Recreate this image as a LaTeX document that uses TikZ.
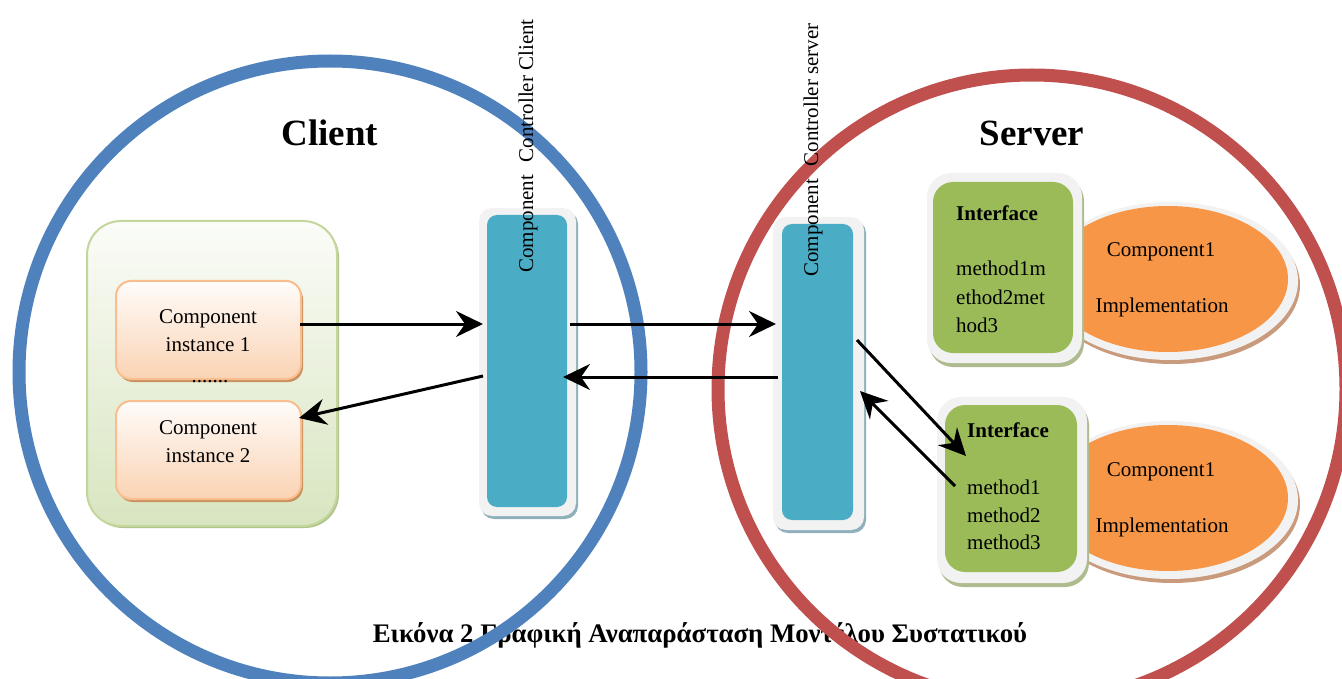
\documentclass[tikz,border=0pt]{standalone}
\usepackage{fontspec}
\setmainfont{Liberation Serif}
\usetikzlibrary{arrows.meta,shadows,shapes.geometric}
\definecolor{blueR}{HTML}{4F81BD}
\definecolor{redR}{HTML}{C0504D}
\definecolor{tealB}{HTML}{4BACC6}
\definecolor{frameG}{HTML}{F2F2F2}
\definecolor{barShadow}{HTML}{8FAFBA}
\definecolor{greenI}{HTML}{9BBB59}
\definecolor{greenShadow}{HTML}{AEBB8E}
\definecolor{orangeE}{HTML}{F79646}
\definecolor{ellShadow}{HTML}{C99A7C}
\definecolor{cbTop}{HTML}{FBFCF8}
\definecolor{cbBot}{HTML}{D8E5C0}
\definecolor{cbBorder}{HTML}{C3D69B}
\definecolor{cbShadow}{HTML}{AFC38A}
\definecolor{ciTop}{HTML}{FFFCFA}
\definecolor{ciBot}{HTML}{FAD3B3}
\definecolor{ciBorder}{HTML}{F9BE8F}
\definecolor{ciShadow}{HTML}{C9925F}
\tikzset{
  ring/.style={draw, line width=13pt},
  txt/.style={font=\fontsize{21}{28}\selectfont, inner sep=0pt},
  boldlabel/.style={font=\fontsize{37}{40}\selectfont\bfseries, inner sep=0pt},
  clientbox/.style={rectangle, rounded corners=34pt, draw=cbBorder, line width=2pt,
     top color=cbTop, bottom color=cbBot, inner sep=0pt,
     drop shadow={shadow xshift=2pt, shadow yshift=-2pt, fill=cbShadow, opacity=1}},
  instbox/.style={rectangle, rounded corners=15pt, draw=ciBorder, line width=2pt,
     top color=ciTop, bottom color=ciBot, inner sep=0pt,
     minimum width=185pt, minimum height=98pt,
     drop shadow={shadow xshift=2pt, shadow yshift=-3pt, fill=ciShadow, opacity=1}},
  barframe/.style={rectangle, rounded corners=13pt, fill=frameG, inner sep=0pt,
     drop shadow={shadow xshift=2pt, shadow yshift=-3pt, fill=barShadow, opacity=1}},
  barinner/.style={rectangle, rounded corners=10pt, fill=tealB, inner sep=0pt},
  ifframe/.style={rectangle, rounded corners=24pt, fill=frameG, inner sep=0pt,
     drop shadow={shadow xshift=2pt, shadow yshift=-4pt, fill=greenShadow, opacity=1}},
  ifinner/.style={rectangle, rounded corners=20pt, fill=greenI, inner sep=0pt},
  ellframe/.style={ellipse, fill=frameG, inner sep=0pt, minimum width=256pt, minimum height=158pt,
     drop shadow={shadow xshift=2pt, shadow yshift=-4pt, fill=ellShadow, opacity=1}},
  ellinner/.style={ellipse, fill=orangeE, inner sep=0pt, minimum width=240pt, minimum height=146pt},
  conn/.style={line width=3pt, -{Stealth[length=27pt, width=26pt, inset=9pt]}},
}
\begin{document}
\begin{tikzpicture}[x=1pt, y=-1pt]
\path[use as bounding box] (0,0) rectangle (1342,679);
\clip (0,0) rectangle (1342,679);
% caption (under the rings)
\node[inner sep=0pt, font=\fontsize{26.8}{30}\selectfont\bfseries] (caption) at (700,635)
  {Εικόνα 2 Γραφική Αναπαράσταση Μοντέλου Συστατικού};
% rings
\draw[ring, blueR] (330,372) circle[radius=311];
\draw[ring, redR] (1032,389) circle[radius=314];
% titles
\node[boldlabel] (clientlbl) at (330,133) {Client};
\node[boldlabel] (serverlbl) at (1032,133) {Server};
% client container
\node[clientbox, minimum width=250pt, minimum height=305pt] (cbox) at (212,373.5) {};
\node[instbox] (ci1) at (208.5,330) {};
\node[txt, align=center] (ci1t) at (208,331) {Component\\instance 1};
\node[txt, anchor=base] (dots) at (210,382) {.......};
\node[instbox] (ci2) at (208.5,450) {};
\node[txt, align=center] (ci2t) at (208,442) {Component\\instance 2};
% client controller bar
\node[barframe, minimum width=97pt, minimum height=308pt] (cbarf) at (527.5,362) {};
\node[barinner, minimum width=80pt, minimum height=292pt] (cbar) at (527,361) {};
\node[txt, rotate=90] (cctl) at (528,146) {Component\hspace{0.6em}Controller Client};
% server controller bar
\node[barframe, minimum width=91pt, minimum height=313pt] (sbarf) at (818.5,373.5) {};
\node[barinner, minimum width=71pt, minimum height=296pt] (sbar) at (817.5,372) {};
\node[txt, rotate=90] (sctl) at (813,150) {Component\hspace{0.6em}Controller server};
% server component 1
\node[ellframe] (e1f) at (1170,281) {};
\node[ellinner] (e1) at (1168,279) {};
\node[ifframe, minimum width=155pt, minimum height=190pt] (if1f) at (1004.5,268) {};
\node[ifinner, minimum width=140pt, minimum height=171pt] (if1) at (1003,267.5) {};
\node[txt, font=\fontsize{21}{28}\selectfont\bfseries, anchor=west] (if1t) at (956,213) {Interface};
\node[txt, anchor=west] (if1m1) at (956,268) {method1m};
\node[txt, anchor=west] (if1m2) at (956,297) {ethod2met};
\node[txt, anchor=west] (if1m3) at (956,325) {hod3};
\node[txt] (e1t1) at (1161,252) {Component1};
\node[txt] (e1t2) at (1162,307) {Implementation};
% server component 2
\node[ellframe] (e2f) at (1170,500) {};
\node[ellinner] (e2) at (1168,498) {};
\node[ifframe, minimum width=150pt, minimum height=186pt] (if2f) at (1012,490) {};
\node[ifinner, minimum width=132pt, minimum height=167pt] (if2) at (1011,488.5) {};
\node[txt, font=\fontsize{21}{28}\selectfont\bfseries, anchor=west] (if2t) at (967,430) {Interface};
\node[txt, anchor=west] (if2m1) at (967,487) {method1};
\node[txt, anchor=west] (if2m2) at (967,515) {method2};
\node[txt, anchor=west] (if2m3) at (967,542) {method3};
\node[txt] (e2t1) at (1161,472) {Component1};
\node[txt] (e2t2) at (1162,527) {Implementation};
% connector end points
\coordinate (a1s) at (300,324);  \coordinate (a1e) at (483,324);
\coordinate (a2s) at (570,324);  \coordinate (a2e) at (776,324);
\coordinate (a3s) at (778,377);  \coordinate (a3e) at (563,377);
\coordinate (a4s) at (483,376);  \coordinate (a4e) at (299,418);
\coordinate (a5s) at (857,340);  \coordinate (a5e) at (966,456);
\coordinate (a6s) at (955,486);  \coordinate (a6e) at (860,391);
\draw[conn] (a1s) -- (a1e);
\draw[conn] (a2s) -- (a2e);
\draw[conn] (a3s) -- (a3e);
\draw[conn] (a4s) -- (a4e);
\draw[conn] (a5s) -- (a5e);
\draw[conn] (a6s) -- (a6e);
\end{tikzpicture}
\end{document}
